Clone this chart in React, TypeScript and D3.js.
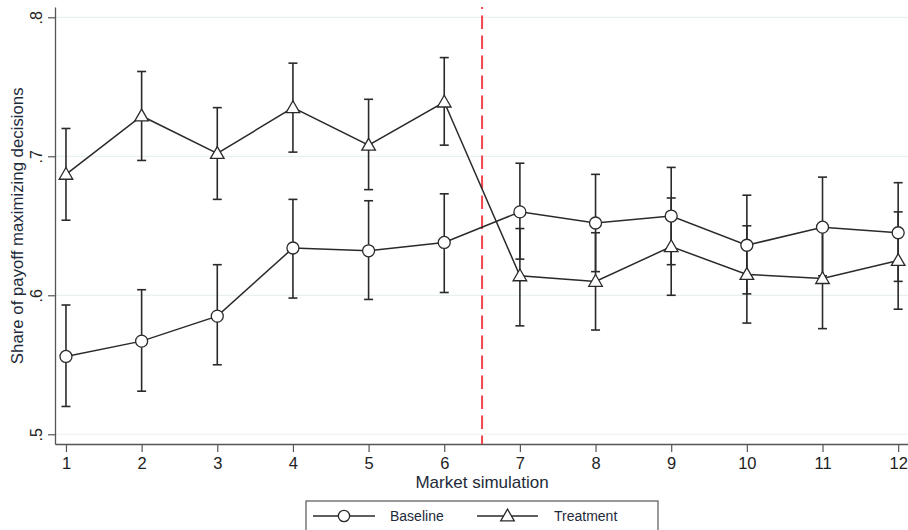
import React, { useEffect, useRef } from "react";
import * as d3 from "d3";

const simulations = [1, 2, 3, 4, 5, 6, 7, 8, 9, 10, 11, 12];

const baselineMean = [0.556, 0.567, 0.585, 0.634, 0.632, 0.638, 0.660, 0.652, 0.657, 0.636, 0.649, 0.645];
const baselineLow = [0.520, 0.531, 0.550, 0.598, 0.597, 0.602, 0.626, 0.617, 0.622, 0.601, 0.614, 0.610];
const baselineHigh = [0.593, 0.604, 0.622, 0.669, 0.668, 0.673, 0.695, 0.687, 0.692, 0.672, 0.685, 0.681];

const treatmentMean = [0.687, 0.729, 0.702, 0.735, 0.708, 0.739, 0.614, 0.610, 0.635, 0.615, 0.612, 0.625];
const treatmentLow = [0.654, 0.697, 0.669, 0.703, 0.676, 0.708, 0.578, 0.575, 0.600, 0.580, 0.576, 0.590];
const treatmentHigh = [0.720, 0.761, 0.735, 0.767, 0.741, 0.771, 0.648, 0.645, 0.670, 0.650, 0.648, 0.660];

const yTicks = [0.5, 0.6, 0.7, 0.8];
const yTickLabels = [".5", ".6", ".7", ".8"];
const cutoff = 6.5;

const FONT = "Arial, 'Liberation Sans', sans-serif";

const App = () => {
    const svgRef = useRef<SVGSVGElement>(null);

    useEffect(() => {
        const svg = d3.select(svgRef.current);
        svg.selectAll("*").remove();

        const width = 908, height = 530;
        const left = 55, right = 908, top = 7, bottom = 444;

        const x = d3.scaleLinear().domain([0.855, 12.13]).range([left, right]);
        const y = d3.scaleLinear().domain([0.493, 0.8074]).range([bottom, top]);

        svg.append("rect").attr("width", width).attr("height", height).attr("fill", "#fff");

        // gridlines
        svg.append("g")
            .selectAll("line")
            .data(yTicks)
            .enter()
            .append("line")
            .attr("x1", left)
            .attr("x2", right)
            .attr("y1", d => y(d))
            .attr("y2", d => y(d))
            .attr("stroke", "#e9f0f2")
            .attr("stroke-width", 1.2);

        // y axis
        const yAxis = svg.append("g")
            .attr("transform", `translate(${left},0)`)
            .call(d3.axisLeft(y).tickValues(yTicks).tickFormat((d, i) => yTickLabels[i]).tickSize(7).tickSizeOuter(0));
        yAxis.select(".domain").attr("stroke", "#555").attr("stroke-width", 1.3);
        yAxis.selectAll(".tick line").attr("stroke", "#555").attr("stroke-width", 1.2);
        yAxis.selectAll(".tick text")
            .attr("x", 0)
            .attr("y", 0)
            .attr("dy", 0)
            .attr("transform", "translate(-13,0) rotate(-90)")
            .attr("text-anchor", "middle")
            .attr("font-family", FONT)
            .attr("font-size", 16)
            .attr("fill", "#222");

        // x axis
        const xAxis = svg.append("g")
            .attr("transform", `translate(0,${bottom})`)
            .call(d3.axisBottom(x).tickValues(simulations).tickFormat(d3.format("d")).tickSize(8).tickSizeOuter(0));
        xAxis.select(".domain").attr("stroke", "#555").attr("stroke-width", 1.3);
        xAxis.selectAll(".tick line").attr("stroke", "#555").attr("stroke-width", 1.2);
        xAxis.selectAll(".tick text")
            .attr("y", 13)
            .attr("font-family", FONT)
            .attr("font-size", 16.5)
            .attr("fill", "#222");

        // axis titles
        svg.append("text")
            .attr("transform", `translate(23,${(y(0.5) + y(0.8)) / 2}) rotate(-90)`)
            .attr("text-anchor", "middle")
            .attr("font-family", FONT)
            .attr("font-size", 16.8)
            .attr("fill", "#1e2a3a")
            .text("Share of payoff maximizing decisions");

        svg.append("text")
            .attr("x", x(cutoff))
            .attr("y", 488)
            .attr("text-anchor", "middle")
            .attr("font-family", FONT)
            .attr("font-size", 17)
            .attr("fill", "#1e2a3a")
            .text("Market simulation");

        // cutoff line
        svg.append("line")
            .attr("x1", x(cutoff))
            .attr("x2", x(cutoff))
            .attr("y1", top)
            .attr("y2", bottom)
            .attr("stroke", "#f2454e")
            .attr("stroke-width", 2)
            .attr("stroke-dasharray", "13.5,6.5")
            .attr("stroke-dashoffset", 11.5);

        const series = [
            { name: "Baseline", mean: baselineMean, low: baselineLow, high: baselineHigh, symbol: d3.symbolCircle },
            { name: "Treatment", mean: treatmentMean, low: treatmentLow, high: treatmentHigh, symbol: d3.symbolTriangle }
        ];

        const ink = "#2a2a2a";
        const cap = 4.5;

        // error bars
        series.forEach(s => {
            const g = svg.append("g").attr("stroke", ink).attr("stroke-width", 1.6);
            simulations.forEach((t, i) => {
                g.append("line")
                    .attr("x1", x(t)).attr("x2", x(t))
                    .attr("y1", y(s.low[i])).attr("y2", y(s.high[i]));
                [s.low[i], s.high[i]].forEach(v => {
                    g.append("line")
                        .attr("x1", x(t) - cap).attr("x2", x(t) + cap)
                        .attr("y1", y(v)).attr("y2", y(v));
                });
            });
        });

        // lines
        const line = d3.line<number>()
            .x((d, i) => x(simulations[i]))
            .y(d => y(d));
        series.forEach(s => {
            svg.append("path")
                .datum(s.mean)
                .attr("d", line)
                .attr("fill", "none")
                .attr("stroke", ink)
                .attr("stroke-width", 1.5);
        });

        // markers
        series.forEach(s => {
            const isCircle = s.symbol === d3.symbolCircle;
            const sym = d3.symbol().type(s.symbol).size(isCircle ? 113 : 80);
            svg.append("g")
                .selectAll("path")
                .data(s.mean)
                .enter()
                .append("path")
                .attr("d", sym)
                .attr("transform", (d, i) => `translate(${x(simulations[i])},${y(d) + (isCircle ? 0 : 1)})`)
                .attr("fill", "#fff")
                .attr("stroke", ink)
                .attr("stroke-width", 1.3);
        });

        // legend
        const legend = svg.append("g");
        legend.append("rect")
            .attr("x", 306).attr("y", 501)
            .attr("width", 352).attr("height", 40)
            .attr("fill", "#fff")
            .attr("stroke", "#555")
            .attr("stroke-width", 1.2);
        const legendItems = [
            { s: series[0], x0: 313, x1: 375, tx: 390 },
            { s: series[1], x0: 477, x1: 538, tx: 554 }
        ];
        legendItems.forEach(item => {
            const ly = 516;
            legend.append("line")
                .attr("x1", item.x0).attr("x2", item.x1)
                .attr("y1", ly).attr("y2", ly)
                .attr("stroke", ink).attr("stroke-width", 1.5);
            const isCircle = item.s.symbol === d3.symbolCircle;
            legend.append("path")
                .attr("d", d3.symbol().type(item.s.symbol).size(isCircle ? 100 : 80)())
                .attr("transform", `translate(${(item.x0 + item.x1) / 2},${ly + (isCircle ? 0 : 1)})`)
                .attr("fill", "#fff").attr("stroke", ink).attr("stroke-width", 1.3);
            legend.append("text")
                .attr("x", item.tx).attr("y", ly + 5)
                .attr("font-family", FONT)
                .attr("font-size", 14)
                .attr("fill", "#1e2a3a")
                .text(item.s.name);
        });
    }, []);

    return (
        <svg
            ref={svgRef}
            width={908}
            height={530}
            style={{ position: "absolute", left: 0, top: 0, display: "block" }}
        ></svg>
    );
};

export default App;
